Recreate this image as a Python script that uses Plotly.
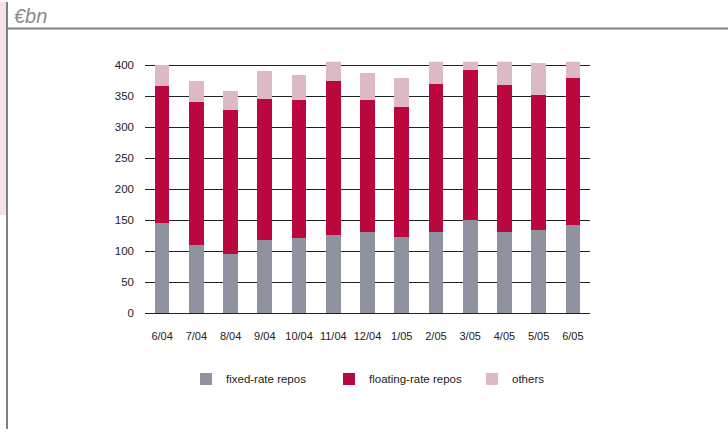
"""Euro-area repo market: outstanding amounts by repo type, 6/04 - 6/05."""

import plotly.graph_objects as go

# values (EUR bn)
months = ["6/04", "7/04", "8/04", "9/04", "10/04", "11/04", "12/04",
          "1/05", "2/05", "3/05", "4/05", "5/05", "6/05"]
fixed_rate = [145, 111, 96, 119, 121, 127, 132, 123, 131, 151, 131, 134, 143]
floating_rate = [221, 230, 231, 227, 222, 248, 211, 210, 238, 241, 237, 218, 236]
others = [34, 34, 32, 44, 41, 32, 45, 47, 39, 16, 40, 52, 29]
y_ticks = [0, 50, 100, 150, 200, 250, 300, 350, 400]

FONT = "Liberation Sans, Arial, sans-serif"
W, H = 728, 435

fig = go.Figure()
for name, vals, colour in [
    ("fixed-rate repos", fixed_rate, "#8F93A0"),
    ("floating-rate repos", floating_rate, "#BA073D"),
    ("others", others, "#DDB8C5"),
]:
    fig.add_trace(go.Bar(x=months, y=vals, name=name, marker_color=colour,
                         marker_line_width=0))

fig.update_layout(
    width=W, height=H,
    margin=dict(l=0, r=0, t=0, b=0),
    paper_bgcolor="white", plot_bgcolor="white",
    barmode="stack", bargap=0.57,
    font=dict(family=FONT, size=11, color="#222222"),
    showlegend=True,
    legend=dict(orientation="h", x=186 / W, xanchor="left",
                y=1 - 384 / H, yanchor="middle",
                entrywidth=98, entrywidthmode="pixels",
                font=dict(family=FONT, size=11.5, color="#222222"),
                traceorder="normal"),
    xaxis=dict(domain=[145 / W, 590 / W], showgrid=False, showline=False,
               ticks="", tickfont=dict(size=11), ticklabelstandoff=15),
    yaxis=dict(domain=[1 - 317.3 / H, 1 - 60.8 / H], range=[0, 405.5],
               tickvals=y_ticks, showgrid=True, gridcolor="#222222",
               gridwidth=1, zeroline=True, zerolinecolor="#222222",
               zerolinewidth=1, showline=False, ticks="",
               tickfont=dict(size=11.5), ticklabelstandoff=10),
    shapes=[
        dict(type="rect", xref="paper", yref="paper", x0=0, x1=6 / W,
             y0=1 - 217 / H, y1=1, fillcolor="#F7E1E8", line_width=0),
        dict(type="line", xref="paper", yref="paper", x0=7 / W, x1=7 / W,
             y0=0, y1=1, line=dict(color="#808080", width=2)),
        dict(type="line", xref="paper", yref="paper", x0=7 / W, x1=1,
             y0=1 - 27 / H, y1=1 - 27 / H, line=dict(color="#808080", width=2)),
    ],
    annotations=[
        dict(text="<i>€bn</i>", xref="paper", yref="paper",
             x=12 / W, y=1 - 14 / H, xanchor="left", yanchor="middle",
             showarrow=False,
             font=dict(family=FONT, size=20, color="#8A8A8A")),
    ],
)

fig.write_html("out.html", config={"displayModeBar": False},
               post_script="document.body.style.margin='0';")
